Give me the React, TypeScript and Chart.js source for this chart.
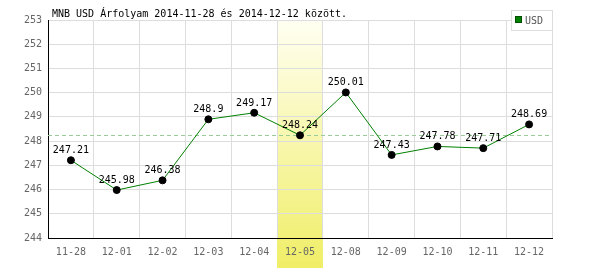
import React, { useEffect, useRef } from "react";
import { Chart, registerables } from "chart.js";

Chart.register(...registerables);

const categories = ["11-28", "12-01", "12-02", "12-03", "12-04", "12-05", "12-08", "12-09", "12-10", "12-11", "12-12"];
const usdValues = [247.21, 245.98, 246.38, 248.9, 249.17, 248.24, 250.01, 247.43, 247.78, 247.71, 248.69];
const highlightIndex = 5;
const referenceValue = 248.24;
const yMin = 244;
const yMax = 253;
const titleText = "MNB USD Árfolyam 2014-11-28 és 2014-12-12 között.";
const legendLabel = "USD";

const FONT = "'DejaVu Sans Mono', 'Liberation Mono', monospace";

export default function App() {
  const ref = useRef<HTMLCanvasElement | null>(null);
  useEffect(() => {
    document.body.style.margin = "0";
    const canvas = ref.current!;
    const overlay = {
      id: "overlay",
      beforeDraw(chart: any) {
        const { ctx, chartArea } = chart;
        const xs = chart.scales.x;
        const step = (chartArea.right - chartArea.left) / categories.length;
        const cx = xs.getPixelForValue(highlightIndex);
        const x0 = Math.round(cx - step / 2);
        const x1 = Math.round(cx + step / 2);
        const g = ctx.createLinearGradient(0, chartArea.top, 0, 268);
        g.addColorStop(0, "#fffff2");
        g.addColorStop(1, "#f0ee66");
        ctx.save();
        ctx.fillStyle = g;
        ctx.fillRect(x0, chartArea.top, x1 - x0, 268 - chartArea.top);
        ctx.restore();
      },
      beforeDatasetsDraw(chart: any) {
        const { ctx, chartArea } = chart;
        const y = Math.round(chart.scales.y.getPixelForValue(referenceValue)) + 0.5;
        ctx.save();
        ctx.strokeStyle = "#99cc99";
        ctx.lineWidth = 1;
        ctx.setLineDash([4, 3]);
        ctx.beginPath();
        ctx.moveTo(chartArea.left, y);
        ctx.lineTo(chartArea.right, y);
        ctx.stroke();
        ctx.restore();
      },
      afterDatasetsDraw(chart: any) {
        const { ctx } = chart;
        const meta = chart.getDatasetMeta(0);
        ctx.save();
        ctx.font = "10px " + FONT;
        ctx.fillStyle = "#000";
        ctx.textAlign = "center";
        ctx.textBaseline = "alphabetic";
        meta.data.forEach((pt: any, i: number) => {
          ctx.fillText(String(usdValues[i]), pt.x, pt.y - 7);
        });
        // title
        ctx.textAlign = "left";
        ctx.fillText(titleText, 52, 17);
        // legend
        const lx = 511.5, ly = 10.5, lw = 41, lh = 20;
        ctx.fillStyle = "#fff";
        ctx.fillRect(lx, ly, lw, lh);
        ctx.strokeStyle = "#dddddd";
        ctx.lineWidth = 1;
        ctx.strokeRect(lx, ly, lw, lh);
        ctx.fillStyle = "#008000";
        ctx.fillRect(515, 16, 7, 7);
        ctx.strokeStyle = "#005000";
        ctx.strokeRect(515.5, 16.5, 6, 6);
        ctx.fillStyle = "#555";
        ctx.textBaseline = "middle";
        ctx.fillText(legendLabel, 525, 21);
        ctx.restore();
      },
    };
    const chart = new Chart(canvas, {
      type: "line",
      data: {
        labels: categories,
        datasets: [
          {
            label: legendLabel,
            data: usdValues,
            borderColor: "#008000",
            borderWidth: 1,
            pointBackgroundColor: "#000",
            pointBorderColor: "#000",
            pointRadius: 3.5,
            tension: 0,
            fill: false,
          },
        ],
      },
      options: {
        animation: false,
        responsive: false,
        maintainAspectRatio: false,
        layout: { padding: { top: 20, right: 48, left: 0, bottom: 0 } },
        plugins: { legend: { display: false }, title: { display: false }, tooltip: { enabled: false } },
        scales: {
          x: {
            offset: true,
            grid: { offset: true, color: "#dddddd", drawTicks: false },
            border: { color: "#000", width: 1 },
            ticks: { color: "#666", font: { family: FONT, size: 10 }, padding: 8, maxRotation: 0, autoSkip: false },
            afterFit: (s: any) => { s.height = 32; },
          },
          y: {
            min: yMin,
            max: yMax,
            grid: { color: "#dddddd", drawTicks: false },
            border: { color: "#000", width: 1 },
            ticks: { stepSize: 1, color: "#666", font: { family: FONT, size: 10 }, padding: 6 },
            afterFit: (s: any) => { s.width = 48; },
          },
        },
      },
      plugins: [overlay],
    });
    return () => chart.destroy();
  }, []);
  return <canvas ref={ref} width={600} height={270} style={{ display: "block" }} />;
}
